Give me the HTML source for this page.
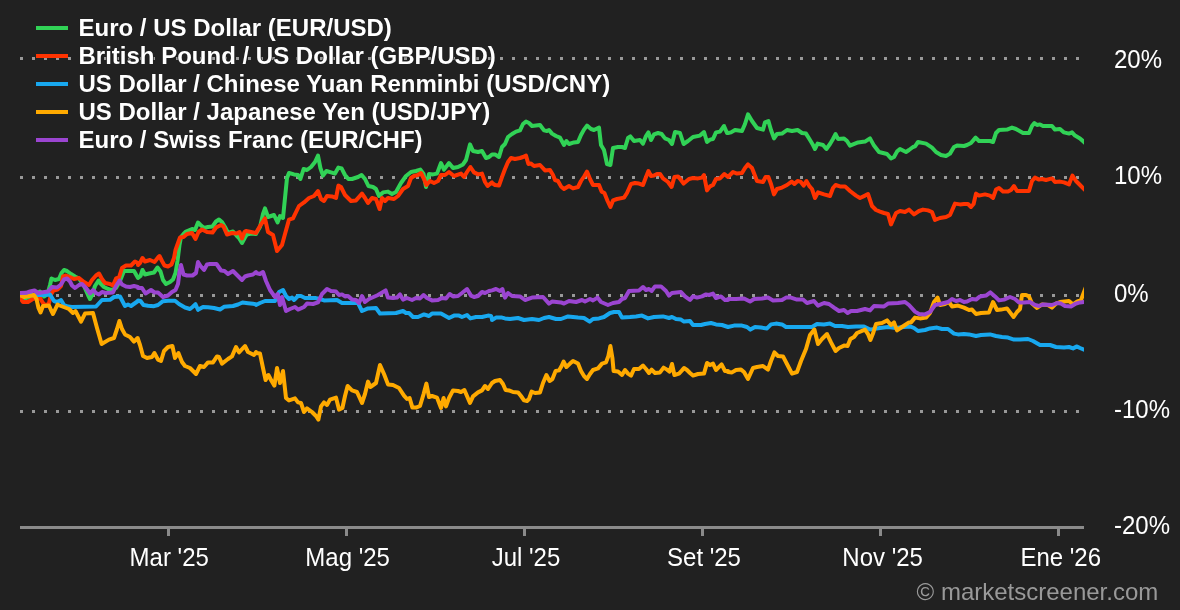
<!DOCTYPE html>
<html lang="en"><head><meta charset="utf-8"><title>Chart</title>
<style>html,body{margin:0;padding:0;background:#212121;overflow:hidden;}svg{display:block;will-change:transform;}text{font-family:"Liberation Sans",sans-serif;}</style></head><body>
<svg width="1180" height="610" viewBox="0 0 1180 610">
<rect width="1180" height="610" fill="#212121"/>
<defs><clipPath id="plot"><rect x="20" y="0" width="1064" height="527"/></clipPath></defs>
<line x1="20" x2="1084" y1="58.5" y2="58.5" stroke="#999" stroke-width="3" stroke-dasharray="3 9"/>
<line x1="20" x2="1084" y1="177.5" y2="177.5" stroke="#999" stroke-width="3" stroke-dasharray="3 9"/>
<line x1="20" x2="1084" y1="295.5" y2="295.5" stroke="#999" stroke-width="3" stroke-dasharray="3 9"/>
<line x1="20" x2="1084" y1="411.5" y2="411.5" stroke="#999" stroke-width="3" stroke-dasharray="3 9"/>
<g clip-path="url(#plot)" fill="none" stroke-width="4" stroke-linejoin="round" stroke-linecap="round">
<path stroke="#31d256" d="M20.0,295.5 L23.0,297.5 L26.0,298.2 L30.0,297.0 L35.0,295.0 L40.0,291.5 L44.0,296.5 L47.5,294.0 L50.0,285.0 L51.5,278.5 L55.0,280.0 L59.0,279.0 L61.5,273.0 L64.0,270.0 L67.0,271.0 L71.0,274.0 L75.0,276.5 L79.0,278.5 L84.0,286.0 L88.0,295.0 L90.0,299.0 L92.0,295.0 L95.0,286.0 L98.5,280.5 L101.0,284.0 L104.0,287.0 L108.0,289.0 L111.0,290.0 L116.0,288.0 L120.0,281.0 L124.0,271.0 L128.0,271.0 L134.0,271.0 L138.0,278.0 L138.0,278.0 L140.5,276.0 L142.5,270.0 L145.0,274.5 L149.0,273.5 L154.0,272.5 L157.5,267.5 L160.5,271.5 L163.0,280.0 L166.0,284.0 L170.0,282.0 L173.0,279.5 L175.5,273.0 L177.5,261.0 L179.5,245.0 L181.0,237.0 L183.5,234.0 L186.0,231.5 L192.0,229.0 L195.0,230.0 L198.0,222.5 L200.5,225.0 L204.0,228.0 L208.0,227.0 L212.5,226.5 L216.0,221.5 L219.0,219.5 L222.0,222.0 L225.0,227.0 L228.0,233.0 L233.0,231.5 L236.5,235.5 L239.0,238.0 L242.0,243.0 L245.0,237.5 L247.0,234.5 L251.0,233.5 L256.0,234.0 L256.0,233.6 L260.0,227.0 L263.0,214.0 L265.0,208.4 L268.0,217.0 L274.0,215.0 L277.6,222.4 L280.0,216.0 L283.0,218.0 L285.0,198.0 L287.0,178.0 L289.0,173.0 L294.0,174.4 L298.0,175.0 L300.4,179.0 L303.6,169.0 L307.0,170.0 L311.0,167.0 L315.0,162.0 L318.0,155.6 L320.4,168.0 L323.0,175.6 L326.4,171.0 L331.0,172.4 L335.0,173.6 L338.4,167.6 L341.6,168.4 L345.0,175.0 L348.4,179.0 L352.0,179.0 L358.0,177.0 L361.6,175.0 L365.0,179.0 L368.4,186.0 L373.0,187.0 L376.0,189.0 L379.0,196.0 L383.0,192.4 L388.0,191.6 L392.0,194.0 L396.0,192.0 L401.0,183.0 L406.0,176.0 L411.0,172.0 L416.0,171.0 L420.4,169.6 L423.6,174.0 L426.0,187.0 L429.0,174.0 L433.0,174.4 L437.0,173.6 L441.0,163.0 L444.0,169.6 L449.0,163.0 L453.0,168.0 L458.0,167.0 L463.0,164.4 L466.0,160.0 L470.0,144.4 L473.0,151.0 L478.0,152.0 L482.0,151.0 L486.0,158.0 L489.0,157.0 L492.0,154.4 L495.0,154.4 L499.0,157.0 L502.0,147.0 L505.0,144.0 L508.0,137.0 L512.0,134.0 L516.0,131.6 L520.0,130.4 L523.0,124.0 L526.0,121.6 L529.0,123.0 L532.0,126.0 L540.0,125.0 L544.0,130.4 L547.0,131.0 L549.0,130.0 L552.0,133.6 L556.0,136.0 L560.0,137.6 L564.0,145.0 L566.4,141.0 L569.0,144.0 L574.0,142.4 L578.0,142.0 L581.0,135.0 L584.0,129.6 L587.0,125.6 L591.0,129.0 L594.0,130.0 L599.0,127.6 L601.0,145.0 L604.0,150.0 L607.0,164.0 L610.4,165.0 L613.0,148.0 L618.0,147.0 L622.0,147.0 L625.0,148.0 L628.0,138.0 L630.4,136.4 L634.0,141.0 L640.0,140.0 L643.0,143.6 L646.0,136.0 L648.4,132.4 L651.0,140.0 L654.0,134.4 L658.0,133.0 L661.6,134.0 L665.0,138.4 L669.0,140.0 L672.0,144.0 L675.0,132.0 L680.0,133.0 L683.6,144.0 L688.0,141.0 L693.0,137.0 L700.0,135.6 L704.0,132.0 L707.0,142.0 L710.0,139.6 L713.0,139.0 L716.0,132.4 L720.0,131.6 L724.0,126.0 L727.0,133.0 L728.0,133.0 L731.0,132.4 L735.0,130.0 L742.0,131.0 L745.0,124.0 L748.0,114.4 L752.0,121.0 L757.0,128.0 L763.0,129.6 L765.0,122.4 L768.4,121.0 L771.0,130.0 L774.0,138.4 L777.0,134.0 L782.0,133.6 L787.0,130.0 L792.0,131.0 L797.6,130.0 L802.0,133.0 L806.0,133.6 L810.0,140.0 L813.0,145.0 L815.0,149.0 L817.6,143.6 L823.0,145.0 L826.4,149.0 L830.0,144.0 L833.0,139.0 L835.6,134.0 L838.0,139.0 L844.0,138.4 L847.0,141.0 L850.0,145.6 L858.0,142.4 L865.0,141.6 L870.0,138.4 L874.0,145.6 L879.0,152.0 L887.0,154.0 L891.0,158.4 L894.0,157.0 L897.0,151.6 L900.0,149.0 L906.0,152.0 L909.0,150.0 L913.0,147.0 L915.0,146.4 L918.0,142.0 L926.0,143.6 L932.0,147.6 L936.0,152.0 L941.0,155.0 L946.0,156.0 L950.0,153.6 L954.0,147.0 L957.0,145.6 L964.0,146.0 L967.0,145.0 L971.0,143.0 L975.6,137.6 L979.0,141.0 L990.0,141.0 L993.0,142.0 L996.0,133.0 L999.0,130.0 L1007.0,129.6 L1012.0,127.6 L1016.0,129.0 L1023.0,133.0 L1029.0,133.0 L1032.0,126.0 L1034.4,123.0 L1037.0,125.0 L1040.0,124.4 L1043.0,126.0 L1052.0,126.0 L1055.0,129.6 L1060.0,129.0 L1064.0,132.4 L1069.0,133.6 L1072.0,132.4 L1075.0,135.6 L1080.0,138.4 L1084.0,142.0 L1088.0,146.0"/>
<path stroke="#ff3300" d="M20.0,298.0 L23.0,302.0 L28.0,302.0 L32.0,299.5 L36.0,298.0 L40.0,298.0 L43.0,303.0 L46.0,306.0 L49.0,303.0 L51.0,294.5 L53.5,290.5 L57.5,289.5 L61.0,286.0 L63.0,276.5 L66.0,275.5 L70.0,277.0 L74.0,279.0 L79.0,278.0 L84.0,282.0 L89.0,285.0 L92.0,280.0 L96.0,275.5 L99.0,273.5 L102.0,279.0 L105.0,283.0 L110.0,284.0 L113.0,285.5 L116.0,278.5 L119.0,277.5 L122.0,268.0 L126.0,265.5 L131.0,265.5 L135.0,261.5 L138.0,263.0 L138.0,265.0 L140.0,263.0 L142.5,258.0 L145.0,261.5 L150.0,260.0 L154.5,262.0 L158.0,257.5 L159.5,256.0 L162.0,261.0 L164.5,265.5 L168.0,266.5 L171.5,264.5 L174.0,258.0 L175.5,250.0 L178.0,243.0 L180.0,237.5 L183.5,237.0 L187.0,234.0 L192.0,233.0 L195.5,239.0 L198.5,232.0 L202.0,229.5 L207.0,232.0 L212.5,232.5 L216.0,227.5 L221.0,225.0 L223.5,226.5 L227.0,234.5 L232.0,233.0 L236.5,233.5 L239.5,232.0 L242.0,238.5 L244.5,232.0 L246.0,231.0 L251.0,232.0 L256.0,233.0 L260.0,226.0 L265.0,218.4 L268.0,232.0 L273.0,235.0 L277.0,251.0 L282.0,245.0 L285.0,234.0 L289.0,219.6 L293.0,218.4 L299.0,206.0 L304.0,202.4 L309.0,198.0 L314.0,196.0 L318.0,191.0 L321.0,199.0 L324.0,201.0 L327.0,196.0 L332.0,196.4 L336.0,198.0 L338.4,185.6 L341.0,187.0 L345.0,195.0 L351.0,201.0 L356.0,200.4 L362.0,193.6 L365.0,198.0 L368.0,203.0 L372.0,198.0 L376.0,199.0 L379.6,209.0 L382.0,198.0 L385.0,201.0 L388.0,198.0 L394.0,199.0 L398.0,196.0 L403.0,189.0 L408.0,186.0 L411.0,178.0 L414.0,176.0 L418.0,175.0 L421.0,173.0 L424.0,179.0 L426.4,185.0 L430.0,181.0 L434.0,183.0 L438.0,181.0 L441.0,175.0 L445.0,175.0 L449.0,172.0 L454.0,176.0 L461.0,173.6 L464.0,177.0 L467.0,172.0 L470.4,167.0 L474.0,172.4 L478.0,174.4 L482.0,173.6 L485.0,182.0 L487.6,186.0 L492.0,182.4 L492.0,183.0 L495.0,185.0 L499.0,185.6 L502.0,177.0 L505.0,169.0 L508.0,162.0 L511.0,158.0 L515.0,159.0 L520.0,158.0 L523.0,157.0 L526.0,155.6 L528.4,164.0 L531.0,163.6 L534.0,166.0 L540.0,165.0 L545.0,170.4 L550.0,170.0 L553.0,175.0 L555.0,180.0 L558.0,181.0 L561.0,186.4 L564.0,189.0 L569.0,186.0 L573.0,188.4 L578.0,187.0 L581.0,181.0 L584.4,176.0 L587.0,171.6 L590.0,179.0 L593.0,185.0 L599.0,185.0 L601.6,191.6 L604.4,193.0 L607.6,201.0 L610.4,207.0 L613.0,200.4 L617.0,199.0 L624.0,197.6 L627.0,193.0 L631.0,184.0 L635.0,183.0 L639.0,183.6 L643.0,185.0 L646.0,177.0 L648.4,171.0 L651.0,176.0 L654.0,175.6 L657.0,174.0 L660.0,174.0 L663.0,178.4 L668.0,182.0 L671.6,187.0 L674.4,177.0 L678.0,176.4 L681.0,180.0 L683.6,183.6 L689.0,179.0 L693.0,178.0 L698.0,178.4 L702.0,177.6 L704.0,175.0 L707.0,190.4 L710.0,186.4 L713.0,185.0 L716.0,179.0 L720.0,178.4 L724.4,174.0 L728.0,177.0 L733.0,172.0 L737.0,173.6 L742.0,173.0 L745.0,168.0 L748.0,164.4 L752.0,168.0 L757.0,181.0 L763.0,182.0 L765.6,177.0 L768.4,177.0 L771.0,184.0 L774.0,194.4 L777.0,189.0 L782.0,187.6 L787.0,185.0 L791.6,181.6 L794.4,184.0 L797.6,181.0 L800.4,181.6 L803.6,185.6 L806.4,181.0 L809.6,186.4 L812.0,189.0 L815.0,198.0 L818.0,192.4 L824.0,194.4 L830.0,196.0 L833.0,188.0 L835.6,185.0 L840.0,186.4 L845.0,186.4 L850.0,191.0 L856.0,195.6 L860.0,198.0 L865.0,195.6 L868.0,194.0 L872.0,206.0 L876.0,210.0 L880.0,211.6 L884.0,213.0 L888.0,214.0 L891.0,224.4 L896.0,213.0 L900.0,211.0 L905.0,212.0 L909.0,209.6 L914.0,214.4 L919.0,211.0 L923.0,209.6 L928.0,210.4 L932.0,212.0 L935.0,220.0 L940.0,218.0 L946.0,217.0 L950.0,215.0 L955.0,203.6 L960.0,204.4 L964.0,204.0 L968.0,204.0 L971.0,207.0 L973.6,204.0 L976.0,193.6 L979.0,195.6 L985.0,194.4 L990.0,195.6 L993.0,198.0 L996.0,189.6 L999.0,188.0 L1003.0,191.6 L1008.0,191.6 L1011.0,190.0 L1014.0,186.0 L1017.0,191.0 L1029.0,191.0 L1032.0,181.0 L1035.0,177.6 L1039.0,179.6 L1042.0,179.0 L1046.0,180.0 L1052.0,178.4 L1055.0,182.0 L1060.0,181.6 L1064.0,182.4 L1069.0,184.4 L1072.4,175.6 L1076.0,181.0 L1080.0,185.0 L1084.0,189.0 L1088.0,193.0"/>
<path stroke="#18a8ef" d="M20.0,295.5 L26.0,295.2 L32.0,294.8 L38.0,295.0 L43.0,295.0 L50.0,294.5 L54.0,301.0 L57.0,302.0 L61.0,300.0 L64.0,305.0 L68.0,306.5 L72.0,307.0 L96.0,306.5 L102.0,300.0 L110.0,299.8 L114.0,297.0 L120.0,296.5 L125.0,306.0 L128.0,304.5 L131.0,306.0 L138.0,301.0 L138.0,300.5 L140.5,301.0 L143.5,305.0 L148.0,305.8 L154.0,306.2 L158.0,305.0 L163.0,301.2 L168.0,300.8 L175.0,300.8 L179.0,304.0 L185.0,307.5 L190.0,309.0 L192.5,307.0 L195.5,304.2 L198.0,309.8 L203.0,307.0 L208.0,307.2 L214.0,308.0 L220.0,309.5 L224.0,306.8 L233.0,306.0 L238.0,304.5 L242.5,302.5 L248.0,303.2 L253.0,303.8 L256.0,304.2 L256.0,305.0 L260.0,303.0 L265.0,301.0 L275.0,301.0 L279.0,292.0 L283.0,290.0 L286.0,296.0 L289.0,299.0 L292.0,297.6 L294.0,300.0 L298.0,296.0 L301.0,296.0 L305.0,298.0 L315.0,298.0 L320.0,299.0 L324.0,300.4 L337.0,300.0 L342.0,303.0 L358.0,303.0 L362.0,311.0 L368.0,308.4 L376.0,308.0 L380.0,313.6 L396.0,313.0 L403.0,311.0 L406.0,313.0 L409.0,313.0 L413.0,317.0 L418.0,317.0 L424.0,314.4 L429.0,316.0 L432.0,313.6 L441.0,313.6 L449.0,318.0 L454.0,315.6 L459.0,315.6 L462.0,317.0 L467.0,315.0 L470.4,318.4 L476.0,317.0 L482.0,317.0 L488.0,315.6 L491.0,316.0 L492.0,319.0 L492.0,320.0 L496.0,317.6 L502.0,317.6 L505.0,318.4 L510.0,319.0 L518.0,318.0 L524.0,320.0 L532.0,319.0 L539.0,320.0 L544.0,318.0 L549.0,317.0 L556.0,319.0 L561.0,319.0 L568.0,316.4 L578.0,317.6 L584.0,318.0 L589.6,321.6 L593.0,319.0 L599.0,318.4 L604.0,317.0 L610.0,313.0 L614.0,312.0 L619.0,312.0 L622.0,317.6 L630.0,317.0 L636.0,316.4 L642.0,315.6 L648.0,318.4 L654.0,317.0 L663.0,316.4 L669.0,318.0 L672.0,317.0 L676.0,319.0 L681.0,319.6 L684.0,321.6 L690.0,321.0 L693.0,325.0 L701.0,325.0 L705.0,324.0 L711.0,323.0 L716.0,324.4 L722.0,325.0 L728.0,327.0 L728.0,327.0 L734.0,325.6 L742.0,325.6 L747.0,327.0 L750.4,329.6 L755.0,327.0 L761.0,327.6 L767.0,328.4 L771.0,324.4 L776.0,323.6 L782.0,324.4 L786.0,327.0 L812.0,327.0 L817.0,324.0 L824.0,324.4 L830.0,323.6 L835.0,326.0 L842.0,326.0 L848.0,327.0 L856.0,326.4 L864.0,326.4 L870.0,329.6 L880.0,328.0 L888.0,327.0 L896.0,328.0 L904.0,327.0 L910.0,326.4 L914.0,328.0 L918.0,331.0 L925.0,330.0 L930.0,328.4 L937.0,327.6 L942.0,329.0 L948.0,329.0 L954.0,333.6 L958.0,334.4 L964.0,334.0 L969.0,334.4 L976.0,336.0 L981.0,335.0 L990.0,334.4 L996.0,336.0 L1002.0,337.0 L1008.0,337.6 L1014.0,339.6 L1020.0,339.6 L1028.0,339.0 L1033.0,341.0 L1040.0,345.0 L1050.0,345.0 L1056.0,347.0 L1064.0,347.6 L1069.0,347.0 L1073.0,348.4 L1077.0,346.4 L1080.0,348.0 L1084.0,349.6 L1088.0,351.2"/>
<path stroke="#ffaa00" d="M20.0,295.0 L24.0,297.0 L29.0,296.0 L34.0,295.0 L36.5,299.0 L38.5,308.0 L40.5,312.5 L43.0,306.0 L49.0,305.5 L51.0,310.0 L53.0,314.0 L57.5,304.5 L61.0,306.0 L69.0,309.0 L73.0,313.0 L75.5,311.0 L81.0,321.6 L85.0,313.6 L93.0,313.0 L97.0,328.0 L101.6,344.0 L109.0,339.6 L114.0,338.0 L117.0,329.0 L119.4,321.0 L122.0,329.0 L125.0,334.4 L130.0,337.0 L134.0,341.6 L137.6,338.0 L140.0,345.0 L143.0,356.0 L147.0,358.0 L152.0,357.0 L154.4,353.0 L158.0,359.6 L161.0,361.0 L164.0,351.0 L168.0,347.0 L172.4,346.0 L175.0,358.0 L178.4,353.0 L182.0,362.0 L185.0,366.0 L190.0,368.0 L193.0,371.0 L196.0,374.0 L200.0,366.0 L204.0,367.0 L208.0,362.4 L213.0,362.4 L217.0,356.4 L219.0,357.0 L222.0,363.6 L228.0,359.0 L232.0,356.4 L236.0,347.0 L239.0,352.4 L245.0,346.0 L248.0,352.0 L254.0,355.0 L256.0,352.0 L256.0,353.0 L260.0,353.6 L263.0,368.0 L265.6,380.0 L268.4,375.0 L271.6,381.0 L274.4,385.6 L277.0,368.0 L280.0,383.0 L283.0,371.0 L286.0,398.0 L289.0,400.4 L295.0,398.4 L298.0,402.4 L301.0,403.0 L304.0,412.0 L307.0,408.4 L312.0,412.0 L316.0,416.0 L318.4,419.6 L321.0,406.4 L324.0,402.4 L327.0,405.0 L330.0,399.6 L336.0,397.6 L339.0,409.6 L342.4,408.0 L345.0,396.0 L347.6,386.0 L352.0,390.4 L357.0,392.0 L362.0,403.0 L365.0,394.0 L368.0,381.6 L370.4,387.0 L376.0,383.0 L380.0,365.0 L384.0,374.0 L388.0,384.4 L393.0,385.0 L399.0,388.0 L404.0,395.6 L407.0,399.0 L409.6,398.0 L412.4,407.6 L416.0,407.6 L420.0,406.0 L423.6,394.0 L426.4,383.6 L429.0,397.0 L432.0,396.0 L437.0,397.6 L441.0,408.0 L443.6,398.0 L446.0,406.4 L449.0,398.0 L453.0,390.4 L458.0,391.0 L461.0,392.0 L464.4,390.0 L470.0,403.0 L473.0,396.4 L478.0,392.4 L482.0,390.4 L485.0,386.0 L488.0,389.0 L492.0,383.0 L495.0,381.0 L500.0,380.0 L503.0,384.0 L505.6,390.0 L509.0,390.4 L513.0,392.0 L518.0,392.4 L521.0,396.0 L524.0,400.4 L527.0,401.0 L529.0,399.0 L531.6,391.6 L535.0,393.0 L540.0,392.4 L543.0,383.0 L546.4,375.0 L549.6,381.0 L552.4,379.0 L555.6,371.0 L559.0,370.4 L561.6,366.0 L563.6,361.6 L566.4,367.0 L570.0,363.6 L573.0,361.0 L578.0,363.6 L581.0,371.0 L584.0,376.0 L587.0,379.0 L590.0,374.0 L593.0,370.0 L598.0,368.4 L602.0,363.6 L606.0,362.4 L608.4,356.0 L610.4,346.0 L612.4,358.0 L613.6,371.0 L618.0,371.6 L622.0,375.0 L625.0,370.0 L628.0,373.6 L631.0,375.6 L634.0,369.0 L639.0,369.0 L643.0,365.6 L646.0,369.0 L649.0,373.0 L651.6,369.6 L655.0,373.0 L660.0,372.4 L663.6,367.6 L667.0,369.6 L669.6,371.6 L672.0,364.0 L674.4,375.0 L679.0,373.6 L682.0,370.4 L684.0,368.0 L687.0,370.0 L690.0,373.0 L693.0,375.6 L698.0,374.0 L704.0,373.6 L707.0,363.0 L710.0,365.0 L713.0,363.6 L716.0,370.0 L721.6,364.4 L725.0,371.0 L728.0,371.0 L728.0,372.0 L732.0,372.4 L736.0,370.0 L741.0,369.6 L744.0,372.0 L748.0,379.0 L753.0,368.0 L757.0,367.0 L763.0,366.0 L768.0,369.6 L771.0,361.0 L774.4,352.4 L778.0,356.0 L783.0,356.4 L788.0,366.0 L792.0,373.6 L797.0,372.0 L801.0,361.0 L806.0,349.0 L810.0,335.0 L814.4,329.6 L818.0,344.0 L822.0,339.0 L827.0,334.0 L831.0,342.4 L835.6,351.0 L839.0,348.0 L844.0,345.6 L847.6,346.0 L850.4,339.0 L854.0,337.0 L857.0,333.0 L865.0,329.6 L868.0,334.0 L870.4,340.0 L873.0,333.6 L876.0,324.0 L882.0,323.0 L887.0,320.4 L891.0,325.0 L894.0,322.4 L897.0,330.4 L902.0,327.0 L909.0,322.4 L911.0,322.4 L915.0,317.6 L920.0,318.4 L926.0,317.6 L930.0,313.0 L934.0,302.0 L937.6,297.6 L940.0,305.0 L945.0,304.0 L949.0,302.0 L952.0,306.4 L958.0,305.6 L964.0,307.6 L964.0,307.6 L969.0,310.0 L972.0,309.6 L976.0,314.0 L981.0,313.0 L989.0,312.4 L993.0,302.0 L997.0,310.0 L1001.0,309.6 L1007.0,308.4 L1010.0,312.4 L1013.6,317.0 L1017.0,312.0 L1020.0,309.0 L1022.0,295.0 L1026.0,295.0 L1029.0,296.4 L1032.0,303.6 L1037.0,308.0 L1042.0,304.4 L1048.0,305.0 L1052.0,307.6 L1056.0,303.6 L1060.0,302.0 L1069.0,301.0 L1073.0,304.4 L1077.0,301.6 L1081.0,300.0 L1084.0,292.0 L1086.4,286.0"/>
<path stroke="#9b45d1" d="M20.0,293.0 L26.0,292.8 L30.0,291.5 L34.5,290.5 L38.0,293.0 L43.0,292.2 L48.0,291.5 L52.0,287.0 L57.0,287.5 L61.0,284.5 L64.0,279.5 L67.0,278.5 L70.0,281.5 L72.0,285.5 L75.0,288.0 L79.0,285.0 L82.0,284.0 L86.0,288.0 L90.0,293.5 L93.0,290.0 L96.0,293.0 L99.0,294.5 L102.0,292.0 L106.0,293.0 L113.0,292.5 L116.0,286.0 L119.5,280.5 L122.0,284.5 L126.0,286.5 L130.0,287.0 L134.0,286.0 L138.0,287.0 L138.0,288.0 L142.0,288.0 L145.5,293.5 L151.0,290.0 L154.5,292.5 L158.0,292.5 L163.0,297.0 L168.0,295.5 L172.0,292.0 L175.5,290.0 L178.0,284.0 L179.5,272.0 L181.0,265.0 L183.5,274.5 L187.0,275.5 L192.5,275.5 L196.0,273.0 L198.0,262.0 L200.5,266.0 L204.0,270.0 L207.0,264.5 L210.0,264.0 L216.5,264.0 L221.0,270.5 L224.5,271.0 L228.0,274.0 L233.0,271.0 L238.0,276.0 L242.0,280.0 L245.0,276.5 L248.0,275.5 L253.0,274.5 L256.0,272.0 L256.0,273.0 L260.0,274.0 L263.0,272.0 L266.0,281.0 L270.0,290.0 L275.0,297.0 L277.6,294.0 L280.0,305.0 L282.0,297.0 L286.0,311.0 L290.0,309.0 L295.0,307.0 L298.0,309.6 L304.0,307.0 L307.0,303.6 L313.0,304.0 L318.0,302.4 L322.0,294.0 L327.0,289.0 L331.0,291.0 L336.0,291.6 L339.0,295.0 L342.0,294.4 L345.0,296.4 L348.0,296.0 L352.0,299.6 L356.0,300.0 L359.0,303.0 L362.0,296.0 L365.0,302.0 L369.0,299.0 L378.0,295.0 L385.6,290.4 L388.0,297.6 L393.0,298.0 L397.0,297.6 L400.0,294.4 L403.0,299.6 L407.0,298.0 L412.0,300.0 L416.0,298.0 L420.0,298.4 L423.6,295.0 L427.0,298.0 L432.0,300.4 L438.0,300.0 L442.0,298.0 L446.0,298.4 L449.6,294.0 L453.0,296.4 L458.0,296.0 L462.0,293.0 L467.0,289.0 L471.0,295.6 L474.0,297.0 L478.0,296.0 L482.0,292.0 L485.0,293.0 L489.0,291.0 L492.0,290.4 L496.0,289.0 L500.0,291.0 L502.4,289.0 L505.0,297.6 L508.0,293.0 L512.0,296.0 L520.0,296.4 L525.0,300.0 L532.0,297.6 L543.0,297.0 L549.0,303.6 L552.0,301.6 L561.0,302.4 L564.0,303.6 L569.0,301.0 L576.0,302.0 L582.0,300.0 L585.0,301.6 L590.0,299.0 L593.0,300.4 L597.6,297.6 L601.0,302.0 L608.0,305.0 L613.0,303.0 L619.0,302.0 L622.0,299.0 L625.0,298.0 L629.0,291.0 L639.0,290.4 L643.0,287.0 L646.0,290.0 L649.0,289.0 L651.6,291.0 L655.0,286.4 L661.0,286.4 L666.0,291.0 L669.0,295.6 L672.0,293.0 L681.0,292.0 L685.0,296.4 L690.0,300.0 L693.0,296.4 L697.0,297.6 L702.0,296.4 L706.0,294.4 L709.0,295.0 L713.0,293.6 L716.0,298.0 L721.0,296.4 L725.0,300.0 L728.0,300.0 L728.0,299.0 L736.0,299.0 L744.0,298.4 L750.0,301.6 L754.0,299.0 L762.0,298.4 L768.0,297.6 L773.0,300.4 L782.0,300.0 L786.0,297.6 L791.0,297.6 L797.0,299.6 L803.0,299.6 L807.0,303.0 L814.0,301.0 L818.0,305.6 L824.0,303.0 L829.0,304.0 L834.0,307.6 L839.0,311.0 L844.0,310.0 L847.6,313.0 L851.0,311.0 L857.0,311.0 L865.0,309.0 L870.0,310.4 L874.0,306.0 L884.0,306.4 L888.0,303.6 L898.0,303.0 L905.0,302.0 L909.0,305.0 L915.0,311.6 L919.0,314.0 L925.0,314.4 L930.0,312.0 L935.0,305.0 L940.0,304.0 L948.0,302.0 L952.0,299.0 L956.0,301.0 L960.0,300.0 L964.0,302.0 L967.0,301.6 L972.0,299.0 L976.0,299.6 L980.0,296.4 L986.0,295.6 L990.4,292.4 L995.0,296.4 L999.0,300.4 L1004.0,299.6 L1010.0,297.0 L1015.0,299.0 L1019.0,302.4 L1024.0,302.4 L1030.0,302.0 L1035.0,305.0 L1039.0,306.0 L1043.0,304.4 L1052.0,305.0 L1057.0,303.0 L1061.0,303.6 L1065.0,306.0 L1071.0,306.4 L1076.0,303.6 L1080.0,302.4 L1084.0,302.0 L1088.0,301.6"/>
</g>
<rect x="20" y="526" width="1064" height="3" fill="#8a8a8a"/>
<rect x="167.0" y="529" width="3" height="7" fill="#8a8a8a"/>
<rect x="345.0" y="529" width="3" height="7" fill="#8a8a8a"/>
<rect x="523.0" y="529" width="3" height="7" fill="#8a8a8a"/>
<rect x="701.0" y="529" width="3" height="7" fill="#8a8a8a"/>
<rect x="879.0" y="529" width="3" height="7" fill="#8a8a8a"/>
<rect x="1057.0" y="529" width="3" height="7" fill="#8a8a8a"/>
<text transform="translate(169.2 565.8) scale(1 1.04)" font-size="24" fill="#fff" text-anchor="middle">Mar '25</text>
<text transform="translate(347.6 565.8) scale(1 1.04)" font-size="24" fill="#fff" text-anchor="middle">Mag '25</text>
<text transform="translate(526 565.8) scale(1 1.04)" font-size="24" fill="#fff" text-anchor="middle">Jul '25</text>
<text transform="translate(704 565.8) scale(1 1.04)" font-size="24" fill="#fff" text-anchor="middle">Set '25</text>
<text transform="translate(882.6 565.8) scale(1 1.04)" font-size="24" fill="#fff" text-anchor="middle">Nov '25</text>
<text transform="translate(1060.7 565.8) scale(1 1.04)" font-size="24" fill="#fff" text-anchor="middle">Ene '26</text>
<text transform="translate(1114 67.5) scale(1 1.04)" font-size="24" fill="#fff">20%</text>
<text transform="translate(1114 184) scale(1 1.04)" font-size="24" fill="#fff">10%</text>
<text transform="translate(1114 302) scale(1 1.04)" font-size="24" fill="#fff">0%</text>
<text transform="translate(1114 418) scale(1 1.04)" font-size="24" fill="#fff">-10%</text>
<text transform="translate(1114 534) scale(1 1.04)" font-size="24" fill="#fff">-20%</text>
<rect x="36" y="26" width="32" height="4" fill="#31d256"/>
<text x="78.5" y="36" font-size="24" font-weight="bold" fill="#fff" stroke="#212121" stroke-width="1.5" stroke-linejoin="round" paint-order="stroke">Euro / US Dollar (EUR/USD)</text>
<rect x="36" y="54" width="32" height="4" fill="#ff3300"/>
<text x="78.5" y="64" font-size="24" font-weight="bold" fill="#fff" stroke="#212121" stroke-width="1.5" stroke-linejoin="round" paint-order="stroke">British Pound / US Dollar (GBP/USD)</text>
<rect x="36" y="82" width="32" height="4" fill="#18a8ef"/>
<text x="78.5" y="92" font-size="24" font-weight="bold" fill="#fff" stroke="#212121" stroke-width="1.5" stroke-linejoin="round" paint-order="stroke">US Dollar / Chinese Yuan Renminbi (USD/CNY)</text>
<rect x="36" y="110" width="32" height="4" fill="#ffaa00"/>
<text x="78.5" y="120" font-size="24" font-weight="bold" fill="#fff" stroke="#212121" stroke-width="1.5" stroke-linejoin="round" paint-order="stroke">US Dollar / Japanese Yen (USD/JPY)</text>
<rect x="36" y="138" width="32" height="4" fill="#9b45d1"/>
<text x="78.5" y="148" font-size="24" font-weight="bold" fill="#fff" stroke="#212121" stroke-width="1.5" stroke-linejoin="round" paint-order="stroke">Euro / Swiss Franc (EUR/CHF)</text>
<text x="1158.3" y="599.5" font-size="24" fill="#999" text-anchor="end">© marketscreener.com</text>
</svg></body></html>
